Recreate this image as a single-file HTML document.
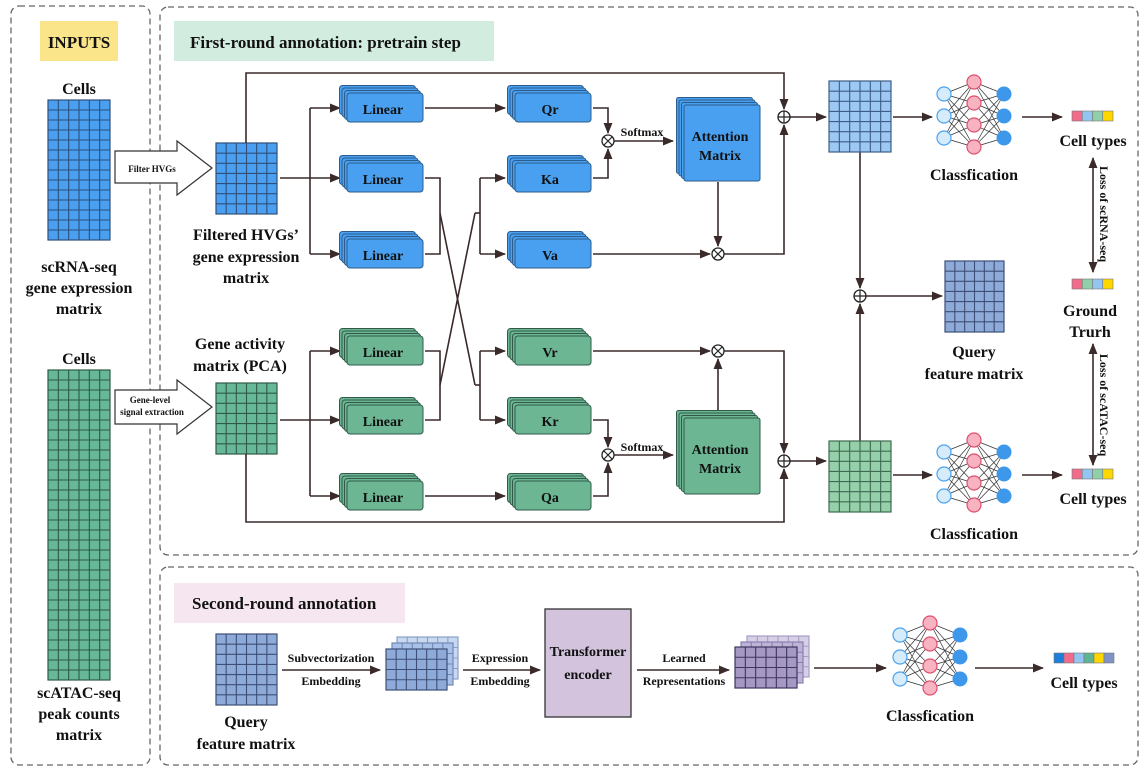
<!DOCTYPE html>
<html><head><meta charset="utf-8"><style>
html,body{margin:0;padding:0;background:#fff}
svg{display:block}
text{font-family:"Liberation Serif",serif;font-weight:bold;fill:#111}
</style></head><body>
<svg id="s" width="1148" height="769" viewBox="0 0 1148 769" xmlns="http://www.w3.org/2000/svg">
<defs>
<marker id="a" viewBox="0 0 10 10" refX="9" refY="5" markerWidth="7" markerHeight="7" orient="auto-start-reverse"><path d="M0,1 L10,5 L0,9 z" fill="#3a2a2a"/></marker>
</defs>
<g fill="none" stroke="#666" stroke-width="1.3" stroke-dasharray="6,4">
<rect x="11" y="6" width="139" height="759" rx="8"/>
<rect x="160" y="7" width="978" height="548" rx="8"/>
<rect x="160" y="567" width="978" height="198" rx="8"/>
</g>
<rect x="40" y="21" width="78" height="40" fill="#fbe58a"/>
<text x="79" y="48" font-size="17" text-anchor="middle">INPUTS</text>
<rect x="174" y="21" width="320" height="40" fill="#d2ede0"/>
<text x="190" y="48" font-size="17">First-round annotation: pretrain step</text>
<rect x="174" y="583" width="231" height="40" fill="#f5e6f0"/>
<text x="192" y="609" font-size="17">Second-round annotation</text>
<g id="shapes"></g>
<g font-size="16" text-anchor="middle">
<text x="79" y="94">Cells</text>
<text x="79" y="272">scRNA-seq</text>
<text x="79" y="293">gene expression</text>
<text x="79" y="314">matrix</text>
<text x="79" y="364">Cells</text>
<text x="79" y="698">scATAC-seq</text>
<text x="79" y="719">peak counts</text>
<text x="79" y="740">matrix</text>
<text x="246" y="240">Filtered HVGs’</text>
<text x="246" y="262">gene expression</text>
<text x="246" y="283">matrix</text>
<text x="240" y="349">Gene activity</text>
<text x="240" y="371">matrix (PCA)</text>
<text x="974" y="180">Classfication</text>
<text x="974" y="539">Classfication</text>
<text x="1093" y="146">Cell types</text>
<text x="1093" y="504">Cell types</text>
<text x="1090" y="316">Ground</text>
<text x="1090" y="337">Trurh</text>
<text x="974" y="357">Query</text>
<text x="974" y="379">feature matrix</text>
<text x="246" y="727">Query</text>
<text x="246" y="749">feature matrix</text>
<text x="930" y="721">Classfication</text>
<text x="1084" y="688">Cell types</text>
</g>
<g font-size="14" text-anchor="middle">
<text x="383" y="114">Linear</text><text x="383" y="184">Linear</text><text x="383" y="260">Linear</text>
<text x="383" y="357">Linear</text><text x="383" y="426">Linear</text><text x="383" y="502">Linear</text>
<text x="550" y="114">Qr</text><text x="550" y="184">Ka</text><text x="550" y="260">Va</text>
<text x="550" y="357">Vr</text><text x="550" y="426">Kr</text><text x="550" y="502">Qa</text>
<text x="720" y="141">Attention</text><text x="720" y="160">Matrix</text>
<text x="720" y="454">Attention</text><text x="720" y="473">Matrix</text>
<text x="588" y="656">Transformer</text><text x="588" y="679">encoder</text>
</g>
<g font-size="12" text-anchor="middle">
<text x="642" y="136">Softmax</text><text x="642" y="451">Softmax</text>
<text x="331" y="662">Subvectorization</text><text x="331" y="685">Embedding</text>
<text x="500" y="662">Expression</text><text x="500" y="685">Embedding</text>
<text x="684" y="662">Learned</text><text x="684" y="685">Representations</text>
<text transform="translate(1100,214) rotate(90)">Loss of scRNA-seq</text>
<text transform="translate(1100,405) rotate(90)">Loss of scATAC-seq</text>
</g>
<g font-size="9" text-anchor="middle">
<text x="152" y="172">Filter HVGs</text>
<text x="150" y="403">Gene-level</text>
<text x="152" y="415">signal extraction</text>
</g>
</svg>
<script>
var NS="http://www.w3.org/2000/svg",G=document.getElementById("shapes");
function el(t,a){var e=document.createElementNS(NS,t);for(var k in a)e.setAttribute(k,a[k]);G.appendChild(e);return e;}
function grid(x,y,w,h,c,r,f,s,op){el("rect",{x:x,y:y,width:w,height:h,fill:f,stroke:s,"stroke-width":1.2,opacity:op||1});
 for(var i=1;i<c;i++)el("line",{x1:x+w*i/c,y1:y,x2:x+w*i/c,y2:y+h,stroke:s,"stroke-width":1.1,opacity:op||1});
 for(var j=1;j<r;j++)el("line",{x1:x,y1:y+h*j/r,x2:x+w,y2:y+h*j/r,stroke:s,"stroke-width":1.1,opacity:op||1});}
function stack(x,y,w,h,f,s,n,rx){for(var i=n-1;i>=0;i--)el("rect",{x:x-i*2.5,y:y-i*2.5,width:w,height:h,rx:rx,fill:f,stroke:s,"stroke-width":1});}
function ln(pts,arr){el("polyline",{points:pts,fill:"none",stroke:"#3a2a2a","stroke-width":1.6,"marker-end":arr?"url(#a)":""});}
function dbl(x,y1,y2){el("line",{x1:x,y1:y1,x2:x,y2:y2,stroke:"#3a2a2a","stroke-width":1.6,"marker-end":"url(#a)","marker-start":"url(#a)"});}
function otimes(x,y){el("circle",{cx:x,cy:y,r:6,fill:"#fff",stroke:"#222","stroke-width":1.3});el("path",{d:"M"+(x-4)+","+(y-4)+"L"+(x+4)+","+(y+4)+"M"+(x+4)+","+(y-4)+"L"+(x-4)+","+(y+4),stroke:"#222","stroke-width":1.2});}
function oplus(x,y){el("circle",{cx:x,cy:y,r:6,fill:"#fff",stroke:"#222","stroke-width":1.3});el("path",{d:"M"+(x-6)+","+y+"L"+(x+6)+","+y+"M"+x+","+(y-6)+"L"+x+","+(y+6),stroke:"#222","stroke-width":1.2});}
function nn(cx,cy){var ins=[cy-22,cy,cy+22],hid=[cy-34,cy-13,cy+9,cy+31],xi=cx-30,xo=cx+30;
 ins.forEach(function(a){hid.forEach(function(b){el("line",{x1:xi,y1:a,x2:cx,y2:b,stroke:"#333","stroke-width":0.7});el("line",{x1:xo,y1:a,x2:cx,y2:b,stroke:"#333","stroke-width":0.7});});});
 ins.forEach(function(a){el("circle",{cx:xi,cy:a,r:7,fill:"#d7ecfb",stroke:"#4aa3ef","stroke-width":1.2});el("circle",{cx:xo,cy:a,r:7,fill:"#3d98ec",stroke:"#3d98ec"});});
 hid.forEach(function(b){el("circle",{cx:cx,cy:b,r:7,fill:"#f7b3c1",stroke:"#e0506e","stroke-width":1.2});});}
function bar(x,y,cols){var w=41/ (cols.length==6?41/60:1);var cw=(cols.length==6?60:41)/cols.length;cols.forEach(function(c,i){el("rect",{x:x+i*cw,y:y,width:cw,height:10,fill:c,stroke:"#777","stroke-width":0.6});});}
// arrows (block)
el("path",{d:"M115,151 L177,151 L177,141 L212,168 L177,195 L177,183 L115,183 Z",fill:"#fff",stroke:"#333","stroke-width":1.2});
el("path",{d:"M115,390 L177,390 L177,380 L212,407 L177,434 L177,424 L115,424 Z",fill:"#fff",stroke:"#333","stroke-width":1.2});
// inputs grids
grid(48,100,62,140,6,14,"#4a9ff0","#2f4f7a");
grid(48,370,62,310,6,31,"#66b899","#2f5a48");
grid(216,143,61,71,6,7,"#4a9ff0","#2f4f7a");
grid(216,383,61,71,6,7,"#66b899","#2f5a48");
// connectors top
ln("246,143 246,73 784,73 784,109",1);
ln("280,178 310,178");ln("310,108 310,254");
ln("310,108 340,108",1);ln("310,178 340,178",1);ln("310,254 340,254",1);
ln("280,420 310,420");ln("310,351 310,496");
ln("310,351 340,351",1);ln("310,420 340,420",1);ln("310,496 340,496",1);
ln("425,108 505,108",1);
ln("425,178 440,178 440,254 425,254");ln("440,213 475,385");
ln("425,351 440,351 440,420 425,420");ln("440,385 475,213");
ln("480,178 480,254");ln("475,213 480,213");ln("480,178 505,178",1);ln("480,254 505,254",1);
ln("480,351 480,420");ln("475,385 480,385");ln("480,351 505,351",1);ln("480,420 505,420",1);
ln("425,496 505,496",1);
ln("593,108 608,108 608,133",1);ln("593,178 608,178 608,149",1);ln("614,141 673,141",1);
ln("593,420 608,420 608,447",1);ln("593,496 608,496 608,463",1);ln("614,455 673,455",1);
ln("718,182 718,246",1);ln("593,254 710,254",1);ln("724,254 784,254 784,125",1);
ln("718,414 718,359",1);ln("593,351 710,351",1);ln("724,351 784,351 784,453",1);
ln("246,454 246,522 784,522 784,469",1);
ln("790,117 826,117",1);ln("790,461 826,461",1);
ln("860,152 860,288",1);ln("860,441 860,304",1);ln("866,296 942,296",1);
ln("893,117 932,117",1);ln("893,475 932,475",1);
ln("1022,117 1062,117",1);ln("1022,475 1062,475",1);
dbl(1093,158,272);dbl(1093,344,465);
// boxes
[108,178,254].forEach(function(c){stack(347,c-15,76,29,"#4aa0f0","#2b5c8c",4,3);});
[351,420,496].forEach(function(c){stack(347,c-15,76,29,"#6cb694","#2f5a48",4,3);});
[108,178,254].forEach(function(c){stack(515,c-15,76,29,"#4aa0f0","#2b5c8c",4,3);});
[351,420,496].forEach(function(c){stack(515,c-15,76,29,"#6cb694","#2f5a48",4,3);});
stack(684,105,76,76,"#4aa0f0","#2b5c8c",4,2);
stack(684,418,76,76,"#6cb694","#2f5a48",4,2);
otimes(608,141);otimes(608,455);otimes(718,254);otimes(718,351);
oplus(784,117);oplus(784,461);oplus(860,296);
grid(829,81,62,71,6,7,"#9cc8f3","#3d5d86");
grid(829,441,62,71,6,7,"#96d0aa","#3d6a50");
grid(945,261,59,71,6,7,"#8eaad9","#3d4f77");
nn(974,116);nn(974,474);nn(930,657);
bar(1072,111,["#f06c8a","#93c5f0","#8fd0a8","#ffd700"]);
bar(1072,279,["#f06c8a","#8fd0a8","#93c5f0","#ffd700"]);
bar(1072,469,["#f06c8a","#93c5f0","#8fd0a8","#ffd700"]);
bar(1054,653,["#1f7fd8","#f06c8a","#93c5f0","#5fb494","#ffd700","#7f93c4"]);
// bottom
grid(216,634,61,71,6,7,"#8eaad9","#3d4f77");
ln("282,670 380,670",1);
grid(397,637,61,42,6,4,"#c7d8f0","#8aa0c8");
grid(392,643,61,42,6,4,"#a9c1e6","#6f88b5");
grid(386,649,61,41,6,4,"#8eaad9","#3d4f77");
ln("463,670 540,670",1);
el("rect",{x:545,y:609,width:86,height:108,fill:"#d3c3dd",stroke:"#333","stroke-width":1.3});
ln("637,670 729,670",1);
grid(747,636,62,41,6,4,"#d6cfe6","#a89fc4");
grid(741,642,62,41,6,4,"#bdb3d6","#8a7fb0");
grid(735,647,62,41,6,4,"#a599c4","#3e3560");
ln("814,668 886,668",1);
ln("975,668 1043,668",1);
</script>
</body></html>
